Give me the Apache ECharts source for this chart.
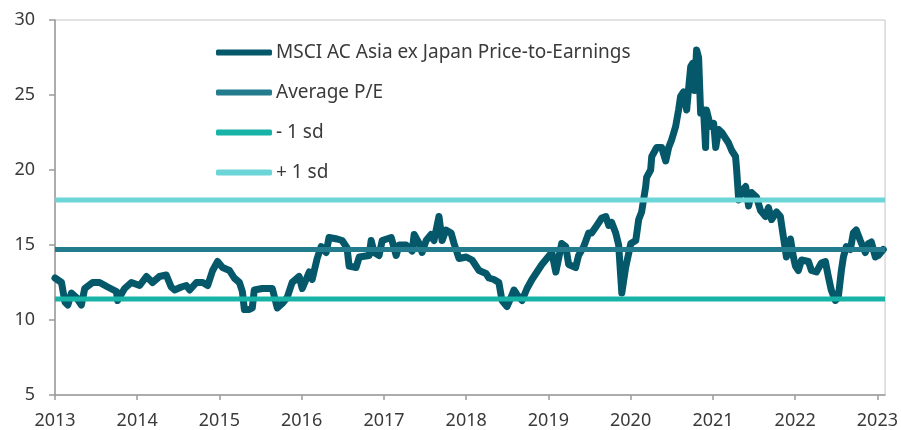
<!DOCTYPE html>
<html>
<head>
<meta charset="utf-8">
<script src="https://cdn.jsdelivr.net/npm/echarts@6/dist/echarts.min.js"></script>
<style>
  html, body { margin: 0; padding: 0; background: #fff; }
  #chart { width: 901px; height: 430px; }
</style>
</head>
<body>
<div id="chart"></div>
<script>
// MSCI AC Asia ex Japan forward P/E
var dates = [
  '2013-01-01', '2013-01-30', '2013-02-14', '2013-02-27', '2013-03-15', '2013-04-06', '2013-04-28',
  '2013-05-13', '2013-06-17', '2013-07-18', '2013-08-23', '2013-10-01', '2013-10-06', '2013-11-06',
  '2013-12-06', '2014-01-12', '2014-02-11', '2014-03-10', '2014-04-10', '2014-05-10', '2014-06-01',
  '2014-06-16', '2014-07-16', '2014-08-07', '2014-08-22', '2014-09-21', '2014-10-19', '2014-11-10',
  '2014-12-02', '2014-12-24', '2015-01-15', '2015-02-15', '2015-03-08', '2015-03-31', '2015-04-13',
  '2015-04-22', '2015-05-14', '2015-05-27', '2015-06-05', '2015-07-10', '2015-07-27', '2015-08-24',
  '2015-09-15', '2015-10-07', '2015-10-29', '2015-11-20', '2015-12-21', '2016-01-04', '2016-02-04',
  '2016-02-17', '2016-03-10', '2016-03-28', '2016-04-19', '2016-05-02', '2016-06-07', '2016-06-29',
  '2016-07-21', '2016-07-30', '2016-08-30', '2016-09-13', '2016-10-27', '2016-11-05', '2016-11-18',
  '2016-12-10', '2016-12-24', '2017-02-02', '2017-02-24', '2017-03-09', '2017-04-09', '2017-05-06',
  '2017-05-15', '2017-06-06', '2017-06-19', '2017-07-07', '2017-07-29', '2017-08-11', '2017-09-02',
  '2017-09-16', '2017-10-03', '2017-10-26', '2017-11-08', '2017-11-30', '2018-01-01', '2018-01-27',
  '2018-02-27', '2018-03-30', '2018-04-12', '2018-05-04', '2018-05-26', '2018-06-09', '2018-07-01',
  '2018-07-19', '2018-08-01', '2018-08-14', '2018-09-06', '2018-09-28', '2018-10-20', '2018-11-11',
  '2018-12-03', '2018-12-25', '2019-01-16', '2019-02-03', '2019-03-01', '2019-03-19', '2019-04-01',
  '2019-05-02', '2019-05-15', '2019-06-07', '2019-06-29', '2019-07-12', '2019-08-04', '2019-08-26',
  '2019-09-13', '2019-09-26', '2019-10-09', '2019-10-27', '2019-11-09', '2019-11-23', '2019-12-10',
  '2020-01-02', '2020-01-24', '2020-02-06', '2020-02-19', '2020-03-08', '2020-03-12', '2020-03-30',
  '2020-04-04', '2020-04-26', '2020-05-18', '2020-06-05', '2020-06-18', '2020-07-01', '2020-07-19',
  '2020-08-01', '2020-08-10', '2020-08-23', '2020-09-06', '2020-09-15', '2020-09-24', '2020-10-02',
  '2020-10-11', '2020-10-20', '2020-10-29', '2020-11-07', '2020-11-20', '2020-11-29', '2020-12-03',
  '2020-12-21', '2021-01-04', '2021-01-13', '2021-01-26', '2021-02-09', '2021-02-26', '2021-03-11',
  '2021-03-25', '2021-04-11', '2021-04-16', '2021-04-25', '2021-05-08', '2021-05-26', '2021-06-08',
  '2021-06-21', '2021-07-13', '2021-07-31', '2021-08-22', '2021-09-04', '2021-09-18', '2021-10-10',
  '2021-10-27', '2021-11-10', '2021-11-23', '2021-12-11', '2021-12-24', '2022-01-02', '2022-01-15',
  '2022-01-29', '2022-03-01', '2022-03-14', '2022-04-05', '2022-04-27', '2022-05-15', '2022-05-28',
  '2022-06-10', '2022-06-28', '2022-07-11', '2022-07-25', '2022-08-03', '2022-08-16', '2022-09-03',
  '2022-09-16', '2022-09-29', '2022-10-17', '2022-11-08', '2022-11-22', '2022-12-05', '2022-12-23',
  '2023-01-05', '2023-01-27'
];
var peValues = [
  12.8, 12.5, 11.2, 11.0, 11.8, 11.5, 11.0,
  12.1, 12.5, 12.5, 12.2, 11.9, 11.3, 12.1,
  12.5, 12.3, 12.9, 12.5, 12.9, 13.0, 12.2,
  12.0, 12.2, 12.3, 12.0, 12.5, 12.5, 12.3,
  13.3, 13.9, 13.5, 13.3, 12.8, 12.5, 11.9,
  10.7, 10.7, 10.8, 12.0, 12.1, 12.1, 12.1,
  10.8, 11.1, 11.5, 12.5, 12.9, 12.1, 13.2,
  12.7, 14.1, 14.9, 14.5, 15.5, 15.4, 15.3,
  14.8, 13.6, 13.5, 14.2, 14.3, 15.3, 14.5,
  14.3, 15.3, 15.5, 14.3, 15.0, 15.0, 14.6,
  15.7, 15.1, 14.5, 15.3, 15.7, 15.3, 16.9,
  15.3, 16.0, 15.8, 15.1, 14.1, 14.2, 14.0,
  13.3, 13.1, 12.8, 12.7, 12.5, 11.3, 10.9,
  11.5, 12.0, 11.7, 11.3, 12.1, 12.7, 13.2,
  13.7, 14.1, 14.5, 13.2, 15.1, 14.9, 13.7,
  13.5, 14.3, 14.9, 15.8, 15.8, 16.3, 16.8,
  16.9, 16.3, 16.5, 15.8, 15.0, 11.8, 13.5,
  15.1, 15.3, 16.7, 17.2, 18.9, 19.5, 20.0,
  20.9, 21.5, 21.5, 20.6, 21.5, 22.0, 22.9,
  24.0, 24.9, 25.2, 24.0, 25.5, 26.9, 27.1,
  25.3, 28.0, 27.5, 23.8, 24.0, 21.5, 24.0,
  22.9, 23.1, 21.5, 22.7, 22.5, 22.1, 21.8,
  21.3, 20.9, 20.0, 18.0, 18.6, 18.9, 17.6,
  18.5, 18.2, 17.3, 16.9, 17.5, 16.7, 17.2,
  16.9, 15.5, 14.2, 15.4, 14.2, 13.6, 13.3,
  14.0, 13.9, 13.3, 13.2, 13.8, 13.9, 12.9,
  12.0, 11.3, 11.5, 13.3, 14.2, 14.9, 14.7,
  15.8, 16.0, 15.3, 14.5, 15.1, 15.2, 14.2,
  14.3, 14.7
];
var avgPE = 14.7;
var minusOneSd = 11.4;
var plusOneSd = 18.0;
var tickYears = ['2013', '2014', '2015', '2016', '2017', '2018', '2019', '2020', '2021', '2022', '2023'];
var seriesNames = ['MSCI AC Asia ex Japan Price-to-Earnings', 'Average P/E', '- 1 sd', '+ 1 sd'];
var xStart = '2013-01-01';
var xEnd = '2023-02-04';

var chart = echarts.init(document.getElementById('chart'), null, { renderer: 'canvas' });

var fontFamily = '"Noto Sans", sans-serif';
var textColor = '#3a3a3a';

function flatLine(name, value, color) {
  return {
    name: name,
    type: 'line',
    data: [[xStart, value], [xEnd, value]],
    symbol: 'none',
    z: 3,
    lineStyle: { color: color, width: 5 },
    itemStyle: { color: color },
    silent: true
  };
}

var option = {
  backgroundColor: '#fff',
  animation: false,
  textStyle: { fontFamily: fontFamily },
  grid: {
    left: 55,
    right: 14,
    top: 20,
    bottom: 35,
    show: true,
    borderColor: '#c4c4c4',
    borderWidth: 1
  },
  legend: {
    orient: 'vertical',
    left: 211,
    top: 38,
    itemGap: 21,
    itemWidth: 56,
    itemHeight: 6,
    icon: 'roundRect',
    data: seriesNames,
    textStyle: { fontSize: 19, color: textColor, fontFamily: fontFamily, padding: [0, 0, 0, -1] }
  },
  xAxis: {
    type: 'time',
    min: xStart,
    max: xEnd,
    axisLine: { lineStyle: { color: '#9a9a9a', width: 1.5 } },
    axisTick: { show: true, length: 5, lineStyle: { color: '#9a9a9a', width: 1.5 }, customValues: tickYears },
    axisLabel: {
      customValues: tickYears,
      formatter: '{yyyy}',
      fontSize: 18,
      color: textColor,
      margin: 17,
      hideOverlap: false
    },
    splitLine: { show: false }
  },
  yAxis: {
    type: 'value',
    min: 5,
    max: 30,
    interval: 5,
    axisLine: { show: true, lineStyle: { color: '#9a9a9a', width: 1.5 } },
    axisTick: { show: true, length: 6, lineStyle: { color: '#9a9a9a', width: 1.5 } },
    axisLabel: { fontSize: 18, color: textColor, margin: 20 },
    splitLine: { show: false }
  },
  series: [
    {
      name: seriesNames[0],
      type: 'line',
      data: dates.map(function (d, i) { return [d, peValues[i]]; }),
      symbol: 'none',
      z: 2,
      lineStyle: { color: '#05586a', width: 7, cap: 'round', join: 'round' },
      itemStyle: { color: '#05586a' }
    },
    flatLine(seriesNames[1], avgPE, '#237b8e'),
    flatLine(seriesNames[2], minusOneSd, '#18b3a7'),
    flatLine(seriesNames[3], plusOneSd, '#6bd5d7')
  ]
};

chart.setOption(option);
</script>
</body>
</html>
